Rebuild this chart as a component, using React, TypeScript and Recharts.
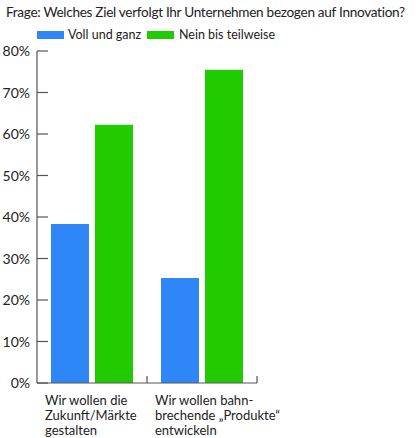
import { BarChart, Bar, XAxis, YAxis } from 'recharts';

const TITLE = 'Frage: Welches Ziel verfolgt Ihr Unternehmen bezogen auf Innovation?';
const categories = [
  ['Wir wollen die', 'Zukunft/Märkte', 'gestalten'],
  ['Wir wollen bahn-', 'brechende „Produkte“', 'entwickeln'],
];
const seriesNames = ['Voll und ganz', 'Nein bis teilweise'];
const vollUndGanz = [38.3, 25.3];
const neinBisTeilweise = [62.2, 75.5];
const yTicks = [0, 10, 20, 30, 40, 50, 60, 70, 80];

const BLUE = '#2f86f6';
const GREEN = '#22cb00';
const AXIS = '#555';
const FONT = 'Lato, "Open Sans", sans-serif';

const data = categories.map((lines, i) => ({
  key: i,
  lines,
  voll: vollUndGanz[i],
  nein: neinBisTeilweise[i],
}));

const YTick = (props: any) => {
  const { x, y, payload } = props;
  return (
    <g>
      <line x1={x + 7} x2={x + 18} y1={y} y2={y} stroke={AXIS} strokeWidth={1.2} />
      <text x={x} y={y} dy={5} textAnchor="end" fontSize={14} fill="#222" fontFamily={FONT}>
        {`${payload.value}%`}
      </text>
    </g>
  );
};

const XTick = (props: any) => {
  const { x, y, index } = props;
  const lines = data[index]?.lines ?? [];
  return (
    <g>
      <line x1={x + 55} x2={x + 55} y1={y} y2={y - 7} stroke={AXIS} strokeWidth={1.2} />
      {lines.map((line: string, i: number) => (
        <text key={i} x={x - 47} y={y + 22 + i * 15} fontSize={13} fill="#222" fontFamily={FONT}>
          {line}
        </text>
      ))}
    </g>
  );
};

// title and legend drawn as a separate svg on top of the chart
const Header = () => (
  <svg width={420} height={50} style={{ position: 'absolute', left: 0, top: 0 }} fontFamily={FONT}>
    <text x={6} y={17} fontSize={13.6} letterSpacing={-0.3} fill="#222">
      {TITLE}
    </text>
    <rect x={37} y={31} width={27} height={8} fill={BLUE} />
    <text x={68} y={39} fontSize={12.5} fill="#222">{seriesNames[0]}</text>
    <rect x={147} y={31} width={27} height={8} fill={GREEN} />
    <text x={179} y={39} fontSize={12.5} fill="#222">{seriesNames[1]}</text>
  </svg>
);

export default function App() {
  return (
    <div style={{ position: 'absolute', left: 0, top: 0, width: 420, height: 438, background: '#fff' }}>
      <BarChart
        width={420}
        height={438}
        data={data}
        margin={{ top: 51, right: 163, bottom: 0, left: 0 }}
        barSize={38}
        barGap={6}
        barCategoryGap={14}
        style={{ position: 'absolute', left: 0, top: 0 }}
      >
        <XAxis
          dataKey="key"
          height={55}
          tickLine={false}
          tickSize={0}
          tickMargin={0}
          axisLine={{ stroke: AXIS, strokeWidth: 1.2 }}
          tick={<XTick />}
          interval={0}
        />
        <YAxis
          width={37}
          domain={[0, 80]}
          ticks={yTicks}
          tickLine={false}
          tickSize={0}
          tickMargin={7}
          axisLine={{ stroke: AXIS, strokeWidth: 1.2 }}
          tick={<YTick />}
          interval={0}
        />
        <Bar dataKey="voll" name={seriesNames[0]} fill={BLUE} isAnimationActive={false} />
        <Bar dataKey="nein" name={seriesNames[1]} fill={GREEN} isAnimationActive={false} />
      </BarChart>
      <Header />
    </div>
  );
}
